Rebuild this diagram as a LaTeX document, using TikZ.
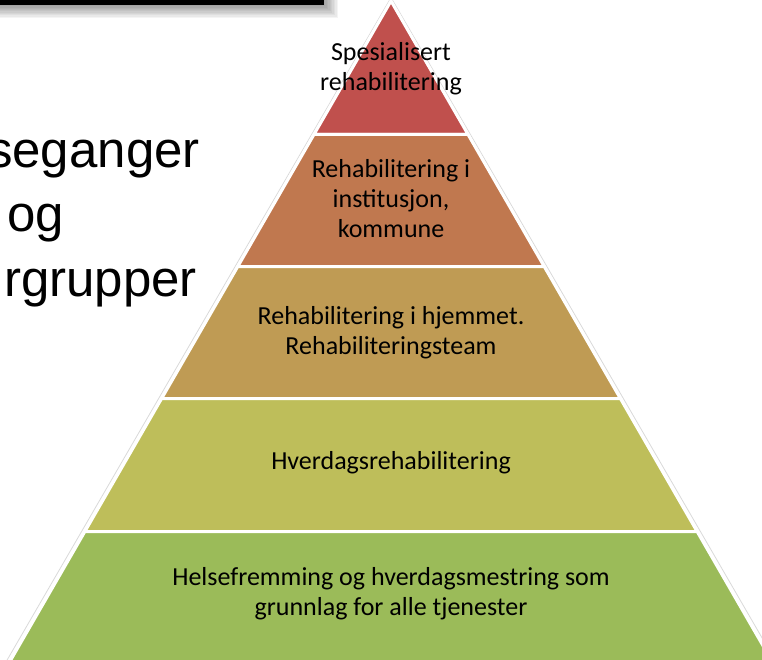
\documentclass[tikz,border=0pt]{standalone}
\usepackage{fontspec}
\setmainfont{Carlito}
\newfontfamily\arialfont{Liberation Sans}
\usetikzlibrary{positioning}
\definecolor{lvlred}{HTML}{C0504D}
\definecolor{lvlcopper}{HTML}{C0784F}
\definecolor{lvlbronze}{HTML}{BF9B54}
\definecolor{lvlolive}{HTML}{BEBE5A}
\definecolor{lvlgreen}{HTML}{9BBB59}

\tikzset{
  lvlbox/.style={draw=white,line width=3pt,line join=miter},
  lvltext/.style={align=center,text=black,font=\fontsize{26}{30}\selectfont},
  sidetext/.style={text=black,inner sep=0pt,font=\arialfont\fontsize{51}{60}\selectfont}
}

\begin{document}
\begin{tikzpicture}[x=1pt,y=-1pt]
\useasboundingbox (0,0) rectangle (762,660);
\clip (0,0) rectangle (762,660);
% Title bar with soft shadow
\foreach \k in {1,...,10} {
  \fill[black,opacity=0.045] (0,-40) rectangle ({324+1.4*\k},{5+1.3*\k});
}
\fill[black] (0,-40) rectangle (324,5);
% Side text
\node[sidetext,anchor=base east] (seg) at (200,168) {seganger};
\node[sidetext,anchor=base west] (og) at (7,232) {og};
\node[sidetext,anchor=base east] (grp) at (197,296) {rgrupper};
% Pyramid outline
\draw[gray!30,line width=0.8pt] ({391-0.577*665-2.5},664) -- (391,-2.5) -- ({391+0.577*665+2.5},664);
% Layers
\foreach \ytop/\ybot/\col in {1/134.5/lvlred,134.5/266.5/lvlcopper,266.5/398.5/lvlbronze,398.5/531.5/lvlolive,531.5/664/lvlgreen} {
  \filldraw[lvlbox,fill=\col] ({391-0.577*(\ytop-1)},\ytop) -- ({391+0.577*(\ytop-1)},\ytop)
    -- ({391+0.577*(\ybot-1)},\ybot) -- ({391-0.577*(\ybot-1)},\ybot) -- cycle;
}
% Labels
\node[lvltext] (spes) at (391,69) {Spesialisert\\rehabilitering};
\node[lvltext] (inst) at (391,199) {Rehabilitering i\\institusjon,\\kommune};
\node[lvltext] (hjem) at (391,333) {Rehabilitering i hjemmet.\\Rehabiliteringsteam};
\node[lvltext] (hverd) at (391,463) {Hverdagsrehabilitering};
\node[lvltext] (helse) at (391,594) {Helsefremming og hverdagsmestring som\\grunnlag for alle tjenester};
\end{tikzpicture}
\end{document}
